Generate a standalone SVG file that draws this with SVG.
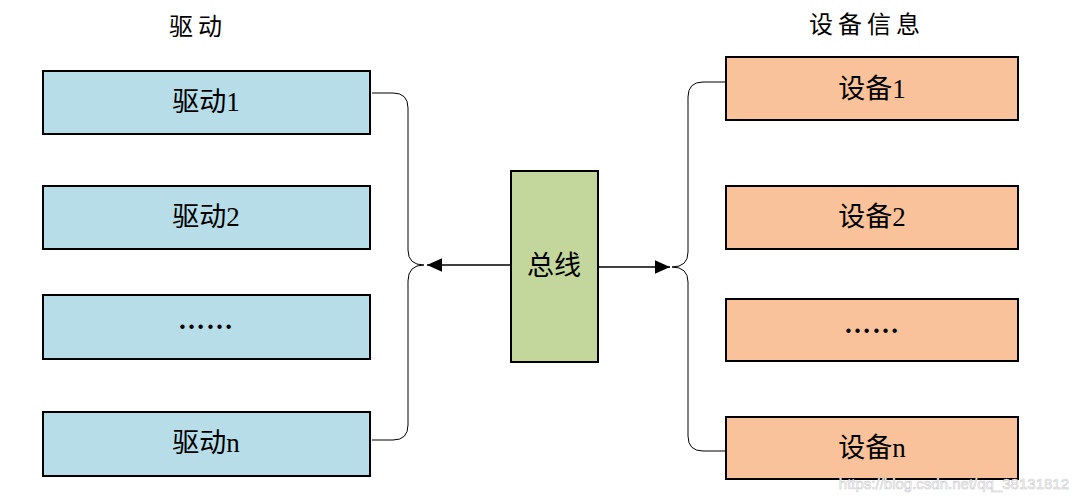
<svg xmlns="http://www.w3.org/2000/svg" width="1079" height="500" viewBox="0 0 1079 500">
<style>
.box{stroke:#000;stroke-width:2}
.drv{fill:#B7DDE8}
.dev{fill:#F9C29A}
.bus{fill:#C3D69B}
.lbl{font-family:"Liberation Serif","Noto Sans CJK SC",serif;font-size:27px;fill:#000;text-anchor:middle;dominant-baseline:central}
.dots{font-family:"Liberation Serif",serif;font-size:27px;font-weight:bold;fill:#000;text-anchor:middle;letter-spacing:1px}
.ttl{font-family:"Liberation Serif","Noto Sans CJK SC",serif;font-size:24px;fill:#000;text-anchor:middle;dominant-baseline:central;letter-spacing:5px}
.con{fill:none;stroke:#000;stroke-width:1}
.arr{fill:none;stroke:#000;stroke-width:1.5}
.wm{font-family:"Liberation Sans",sans-serif;font-size:15px;fill:#fff;stroke:#ccc;stroke-width:0.6;text-anchor:end}
</style>
<defs>
<marker id="ah" viewBox="0 0 10 10" refX="10" refY="5" markerWidth="15" markerHeight="15" markerUnits="userSpaceOnUse" orient="auto">
<path d="M0,0.5 L10,5 L0,9.5 Z" fill="#000"/>
</marker>
</defs>
<text class="ttl" x="198" y="27">驱动</text>
<text class="ttl" x="867" y="25">设备信息</text>
<g id="connectors">
<path class="con" d="M372,93 H393 Q408,93 408,108 V250 Q408,265 424,265"/>
<path class="con" d="M372,440 H393 Q408,440 408,425 V281 Q408,265 424,265"/>
<path class="con" d="M725,82 H703 Q688,82 688,97 V252 Q688,267 672,267"/>
<path class="con" d="M725,451 H703 Q688,451 688,436 V282 Q688,267 672,267"/>
<line class="arr" x1="511" y1="265" x2="427" y2="265" marker-end="url(#ah)"/>
<line class="arr" x1="598" y1="267" x2="670" y2="267" marker-end="url(#ah)"/>
</g>
<g id="drv1"><rect class="box drv" x="43" y="71" width="327" height="63"/><text class="lbl" x="206" y="102">驱动1</text></g>
<g id="drv2"><rect class="box drv" x="43" y="186" width="327" height="63"/><text class="lbl" x="206" y="217">驱动2</text></g>
<g id="drv3"><rect class="box drv" x="43" y="295" width="327" height="64"/><text class="dots" x="206" y="329">……</text></g>
<g id="drvn"><rect class="box drv" x="43" y="412" width="327" height="64"/><text class="lbl" x="206" y="443">驱动n</text></g>
<g id="bus"><rect class="box bus" x="511" y="171" width="87" height="191"/><text class="lbl" x="554" y="266">总线</text></g>
<g id="dev1"><rect class="box dev" x="726" y="57" width="292" height="63"/><text class="lbl" x="872" y="89">设备1</text></g>
<g id="dev2"><rect class="box dev" x="726" y="186" width="292" height="63"/><text class="lbl" x="872" y="217">设备2</text></g>
<g id="dev3"><rect class="box dev" x="726" y="299" width="292" height="62"/><text class="dots" x="872" y="333">……</text></g>
<g id="devn"><rect class="box dev" x="726" y="417" width="292" height="62"/><text class="lbl" x="872" y="448">设备n</text></g>
<text class="wm" x="1069" y="489">https://blog.csdn.net/qq_38131812</text>
</svg>
